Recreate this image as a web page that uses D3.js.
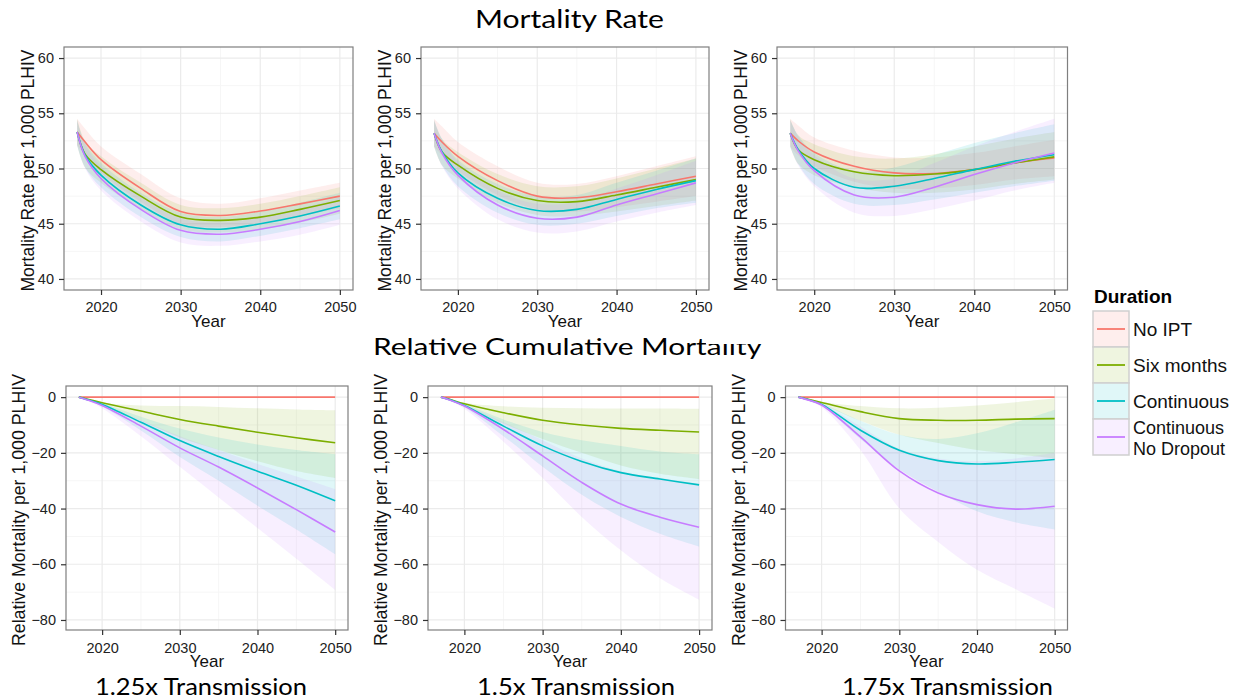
<!DOCTYPE html>
<html>
<head>
<meta charset="utf-8">
<script src="https://cdn.jsdelivr.net/npm/d3@7"></script>
<style>
  body { margin: 0; background: #fff; }
  svg { display: block; }
  .tick text { font-family: "Liberation Sans", Arial, sans-serif; fill: #222; }
</style>
</head>
<body>
<svg width="1250" height="700"></svg>
<script>
// series order: No IPT, Six months, Continuous, Continuous No Dropout
var years = [2017, 2018, 2020, 2025, 2030, 2035, 2040, 2045, 2050];
var durations = ["No IPT", "Six months", "Continuous", "Continuous\nNo Dropout"];
var colors = ["#F8766D", "#7CAE00", "#00BFC4", "#C77CFF"];
var xTicks = [2020, 2030, 2040, 2050];
var rateTicks = [40, 45, 50, 55, 60];
var relTicks = [0, -20, -40, -60, -80];
var transmission = ["1.25x Transmission", "1.5x Transmission", "1.75x Transmission"];

// Mortality rate, 1.25x
var tlMid = [
  [53.3, 52.4, 50.8, 48.2, 46.1, 45.75, 46.15, 46.8, 47.5],
  [53.3, 51.3, 49.9, 47.5, 45.6, 45.3, 45.6, 46.3, 47.1],
  [53.3, 51.2, 49.4, 46.7, 44.9, 44.5, 45.0, 45.7, 46.6],
  [53.3, 51.1, 49.1, 46.3, 44.4, 44.05, 44.5, 45.2, 46.2]
];
var tlHi = [
  [54.5, 53.6, 52.0, 49.5, 47.3, 46.8, 47.3, 48.0, 48.7],
  [54.5, 52.5, 51.1, 48.7, 46.7, 46.4, 46.8, 47.5, 48.3],
  [54.4, 52.3, 50.5, 47.8, 46.0, 45.6, 46.1, 46.9, 47.8],
  [54.4, 52.2, 50.2, 47.4, 45.5, 45.1, 45.6, 46.4, 47.4]
];
var tlLo = [
  [52.1, 51.2, 49.6, 47.0, 45.0, 44.7, 45.1, 45.7, 46.4],
  [52.1, 50.1, 48.7, 46.3, 44.5, 44.2, 44.5, 45.1, 45.9],
  [52.1, 50.1, 48.3, 45.6, 43.8, 43.4, 43.9, 44.6, 45.4],
  [52.1, 50.0, 48.0, 45.2, 43.3, 43.0, 43.4, 44.0, 44.9]
];

// Mortality rate, 1.5x
var tmMid = [
  [53.2, 52.4, 51.1, 48.9, 47.5, 47.35, 47.9, 48.6, 49.3],
  [53.2, 51.5, 50.3, 48.2, 47.1, 47.0, 47.6, 48.3, 49.0],
  [53.2, 51.5, 49.6, 47.3, 46.2, 46.3, 47.2, 48.1, 48.9],
  [53.2, 51.4, 49.4, 46.7, 45.5, 45.6, 46.7, 47.7, 48.7]
];
var tmHi = [
  [54.5, 53.8, 52.4, 50.2, 48.7, 48.6, 49.3, 50.2, 51.1],
  [54.4, 52.7, 51.5, 49.5, 48.4, 48.4, 49.1, 50.0, 50.9],
  [54.4, 52.7, 50.8, 48.6, 47.5, 47.6, 48.7, 49.8, 50.9],
  [54.4, 52.6, 50.6, 48.0, 46.8, 47.0, 48.2, 49.4, 50.7]
];
var tmLo = [
  [52.0, 51.2, 49.8, 47.6, 46.3, 46.1, 46.5, 47.0, 47.5],
  [52.0, 50.3, 49.1, 46.9, 45.8, 45.7, 46.1, 46.6, 47.1],
  [52.0, 50.3, 48.4, 46.0, 44.9, 45.0, 45.7, 46.4, 46.9],
  [52.0, 50.2, 48.2, 45.4, 44.2, 44.3, 45.2, 46.0, 46.7]
];

// Mortality rate, 1.75x
var trMid = [
  [53.2, 52.5, 51.5, 50.2, 49.6, 49.55, 49.9, 50.5, 50.95],
  [53.2, 51.7, 50.8, 49.7, 49.35, 49.5, 49.9, 50.5, 51.05],
  [53.2, 51.7, 50.0, 48.3, 48.4, 49.1, 49.9, 50.65, 51.25],
  [53.2, 51.6, 49.8, 47.6, 47.4, 48.3, 49.45, 50.5, 51.4]
];
var trHi = [
  [54.5, 53.9, 52.8, 51.6, 51.0, 51.0, 51.4, 52.0, 52.6],
  [54.5, 53.0, 52.2, 51.1, 50.9, 51.3, 52.0, 52.7, 53.3],
  [54.4, 53.0, 51.4, 49.8, 50.1, 51.2, 52.3, 53.2, 54.0],
  [54.4, 52.9, 51.2, 49.1, 49.1, 50.5, 52.0, 53.3, 54.5]
];
var trLo = [
  [52.0, 51.2, 50.2, 48.8, 48.2, 48.2, 48.5, 49.0, 49.3],
  [52.0, 50.4, 49.4, 48.3, 47.8, 47.8, 48.1, 48.6, 49.0],
  [52.0, 50.4, 48.6, 46.8, 46.7, 47.2, 47.8, 48.4, 48.9],
  [52.0, 50.3, 48.4, 46.0, 45.7, 46.3, 47.1, 48.0, 48.7]
];

// Relative cumulative mortality, 1.25x
var blMid = [
  [0, 0, 0, 0, 0, 0, 0, 0, 0],
  [0, -0.7, -2.0, -5.0, -8.0, -10.4, -12.6, -14.6, -16.4],
  [0, -0.8, -2.6, -9.0, -15.6, -21.3, -26.6, -31.6, -37.2],
  [0, -0.9, -3.0, -10.4, -18.2, -25.1, -32.6, -40.4, -48.4]
];
var blHi = [
  [0, 0, 0, 0, 0, 0, 0, 0, 0],
  [0, -0.6, -2.0, -3.0, -3.2, -3.5, -4.0, -4.4, -4.7],
  [0, -0.7, -2.2, -7.0, -11.3, -14.5, -17, -19, -20.5],
  [0, -0.8, -2.6, -8.3, -14, -19, -24, -28.5, -33]
];
var blLo = [
  [0, 0, 0, 0, 0, 0, 0, 0, 0],
  [0, -0.9, -2.8, -8.5, -14.5, -19, -23, -26.5, -29],
  [0, -1.0, -3.4, -12, -21.5, -30, -39, -47.5, -56.4],
  [0, -1.1, -4.0, -14, -25, -36, -47, -58, -69.2]
];

// Relative cumulative mortality, 1.5x
var bmMid = [
  [0, 0, 0, 0, 0, 0, 0, 0, 0],
  [0, -0.7, -2.4, -5.6, -8.3, -10.0, -11.2, -11.9, -12.5],
  [0, -0.8, -3.0, -10.4, -17.5, -23.1, -27.1, -29.4, -31.5],
  [0, -0.9, -3.2, -11.6, -21.1, -30.6, -38.4, -43.1, -46.7]
];
var bmHi = [
  [0, 0, 0, 0, 0, 0, 0, 0, 0],
  [0, -0.6, -2.0, -3.3, -3.8, -4.0, -4.1, -4.1, -4.2],
  [0, -0.7, -2.5, -8, -12.5, -15.5, -17.5, -19.5, -20.5],
  [0, -0.8, -2.7, -9, -15.5, -22, -26.5, -29, -31]
];
var bmLo = [
  [0, 0, 0, 0, 0, 0, 0, 0, 0],
  [0, -0.9, -3.0, -9.5, -15, -20, -24.5, -27.5, -29.4],
  [0, -1.0, -3.6, -14, -25, -35, -43, -49, -53.6],
  [0, -1.1, -4.2, -16, -29, -43, -55, -65, -72.7]
];

// Relative cumulative mortality, 1.75x
var brMid = [
  [0, 0, 0, 0, 0, 0, 0, 0, 0],
  [0, -0.6, -1.9, -5.2, -7.7, -8.3, -8.3, -7.9, -7.7],
  [0, -0.7, -2.6, -11.9, -19.1, -22.8, -24.0, -23.4, -22.4],
  [0, -0.8, -2.8, -14.3, -26.5, -34.4, -38.6, -40.2, -39.2]
];
var brHi = [
  [0, 0, 0, 0, 0, 0, 0, 0, 0],
  [0, -0.5, -1.7, -3.2, -4.0, -3.8, -3.0, -1.8, -0.4],
  [0, -0.6, -2.2, -8.5, -13.5, -15, -13, -9, -4.5],
  [0, -0.7, -2.4, -10.5, -18.5, -22, -23, -22, -20]
];
var brLo = [
  [0, 0, 0, 0, 0, 0, 0, 0, 0],
  [0, -0.8, -2.6, -8.5, -13.5, -16.5, -19, -20.5, -22],
  [0, -0.9, -3.2, -15, -26, -34, -41, -45, -47.5],
  [0, -1.0, -3.6, -19, -40, -52, -62, -69, -75.9]
];

var svg = d3.select("svg");
svg.append("rect").attr("width", 1250).attr("height", 700).attr("fill", "#fff");

var titleFont = "Lato, 'Open Sans', sans-serif";
var axisFont = "'Liberation Sans', Arial, sans-serif";

// row titles
svg.append("text")
  .attr("x", 569.5).attr("y", 28)
  .attr("text-anchor", "middle")
  .attr("font-family", titleFont).attr("font-size", 25)
  .attr("textLength", 189).attr("lengthAdjust", "spacingAndGlyphs")
  .text("Mortality Rate");

svg.append("text")
  .attr("x", 373).attr("y", 355)
  .attr("font-family", titleFont).attr("font-size", 23)
  .attr("textLength", 389).attr("lengthAdjust", "spacingAndGlyphs")
  .text("Relative Cumulative Mortality");

// background of the top-right figure covers the top of that title
svg.append("rect")
  .attr("x", 706).attr("y", 300).attr("width", 379).attr("height", 44)
  .attr("fill", "#fff");

var bottomCenters = [201, 576, 947.5];
var bottomWidths = [212, 198, 211];
transmission.forEach(function(t, i) {
  svg.append("text")
    .attr("x", bottomCenters[i]).attr("y", 695)
    .attr("text-anchor", "middle")
    .attr("font-family", titleFont).attr("font-size", 23)
    .attr("textLength", bottomWidths[i]).attr("lengthAdjust", "spacingAndGlyphs")
    .text(t);
});

var panels = [
  { x0: 64, x1: 353, y0: 47, y1: 290, top: true, mid: tlMid, lo: tlLo, hi: tlHi },
  { x0: 421, x1: 709, y0: 47, y1: 290, top: true, mid: tmMid, lo: tmLo, hi: tmHi },
  { x0: 777, x1: 1067.5, y0: 47, y1: 290, top: true, mid: trMid, lo: trLo, hi: trHi },
  { x0: 66, x1: 348, y0: 386, y1: 630, top: false, mid: blMid, lo: blLo, hi: blHi },
  { x0: 428, x1: 712, y0: 386, y1: 630, top: false, mid: bmMid, lo: bmLo, hi: bmHi },
  { x0: 785.5, x1: 1067.5, y0: 386, y1: 630, top: false, mid: brMid, lo: brLo, hi: brHi }
];

var curve = d3.curveCatmullRom.alpha(0.5);

panels.forEach(function(p) {
  var x = d3.scaleLinear().domain([2015.35, 2051.65]).range([p.x0, p.x1]);
  var y = d3.scaleLinear()
    .domain(p.top ? [39, 61] : [-83.6, 4])
    .range([p.y1, p.y0]);
  var yTicks = p.top ? rateTicks : relTicks;
  var yMinor = p.top ? [42.5, 47.5, 52.5, 57.5] : [-70, -50, -30, -10];
  var xMinor = [2025, 2035, 2045];

  var g = svg.append("g");
  g.append("rect")
    .attr("x", p.x0).attr("y", p.y0)
    .attr("width", p.x1 - p.x0).attr("height", p.y1 - p.y0)
    .attr("fill", "#fff");

  // grid
  g.selectAll(".xminor").data(xMinor).enter().append("line")
    .attr("x1", x).attr("x2", x).attr("y1", p.y0).attr("y2", p.y1)
    .attr("stroke", "#f6f6f6").attr("stroke-width", 1);
  g.selectAll(".yminor").data(yMinor).enter().append("line")
    .attr("x1", p.x0).attr("x2", p.x1).attr("y1", y).attr("y2", y)
    .attr("stroke", "#f6f6f6").attr("stroke-width", 1);
  g.selectAll(".xmajor").data(xTicks).enter().append("line")
    .attr("x1", x).attr("x2", x).attr("y1", p.y0).attr("y2", p.y1)
    .attr("stroke", "#ebebeb").attr("stroke-width", 1.2);
  g.selectAll(".ymajor").data(yTicks).enter().append("line")
    .attr("x1", p.x0).attr("x2", p.x1).attr("y1", y).attr("y2", y)
    .attr("stroke", "#ebebeb").attr("stroke-width", 1.2);

  var area = d3.area()
    .x(function(d) { return x(d.year); })
    .y0(function(d) { return y(d.lo); })
    .y1(function(d) { return y(d.hi); })
    .curve(curve);
  var line = d3.line()
    .x(function(d) { return x(d.year); })
    .y(function(d) { return y(d.mid); })
    .curve(curve);

  var series = p.mid.map(function(m, s) {
    return years.map(function(yr, i) {
      return { year: yr, mid: m[i], lo: p.lo[s][i], hi: p.hi[s][i] };
    });
  });

  g.selectAll(".band").data(series).enter().append("path")
    .attr("d", area)
    .attr("fill", function(d, i) { return colors[i]; })
    .attr("fill-opacity", 0.12);
  g.selectAll(".line").data(series).enter().append("path")
    .attr("d", line)
    .attr("fill", "none")
    .attr("stroke", function(d, i) { return colors[i]; })
    .attr("stroke-width", 1.6);

  g.append("rect")
    .attr("x", p.x0).attr("y", p.y0)
    .attr("width", p.x1 - p.x0).attr("height", p.y1 - p.y0)
    .attr("fill", "none").attr("stroke", "#7f7f7f").attr("stroke-width", 1.2);

  // axes
  var xAxis = g.append("g")
    .attr("transform", "translate(0," + p.y1 + ")")
    .call(d3.axisBottom(x).tickValues(xTicks).tickFormat(d3.format("d"))
      .tickSize(5).tickPadding(p.top ? 7 : 8));
  var yAxis = g.append("g")
    .attr("transform", "translate(" + p.x0 + ",0)")
    .call(d3.axisLeft(y).tickValues(yTicks).tickSize(5).tickPadding(5));
  [xAxis, yAxis].forEach(function(a) {
    a.select(".domain").remove();
    a.selectAll(".tick line").attr("stroke", "#333").attr("stroke-width", 1.2);
    a.selectAll(".tick text").attr("font-size", 14.5);
  });

  g.append("text")
    .attr("x", (p.x0 + p.x1) / 2).attr("y", p.top ? 327 : 667)
    .attr("text-anchor", "middle")
    .attr("font-family", axisFont).attr("font-size", 17)
    .attr("fill", "#111")
    .text("Year");

  var yTitleX = p.top ? p.x0 - 30 : p.x0 - 41;
  var yTitleY = (p.y0 + p.y1) / 2 + 2;
  g.append("text")
    .attr("transform", "translate(" + yTitleX + "," + yTitleY + ") rotate(-90)")
    .attr("text-anchor", "middle")
    .attr("font-family", axisFont).attr("font-size", 17.5)
    .attr("fill", "#111")
    .attr("textLength", p.top ? 242 : 272).attr("lengthAdjust", "spacingAndGlyphs")
    .text(p.top ? "Mortality Rate per 1,000 PLHIV" : "Relative Mortality per 1,000 PLHIV");
});

// legend
var legend = svg.append("g");
legend.append("text")
  .attr("x", 1094).attr("y", 303)
  .attr("font-family", axisFont).attr("font-size", 19).attr("font-weight", "bold")
  .text("Duration");

var keyTop = 311, keyH = 36;
durations.forEach(function(name, i) {
  var ky = keyTop + i * keyH;
  legend.append("rect")
    .attr("x", 1093).attr("y", ky).attr("width", 36).attr("height", keyH)
    .attr("fill", "#fff");
  legend.append("rect")
    .attr("x", 1093).attr("y", ky).attr("width", 36).attr("height", keyH)
    .attr("fill", colors[i]).attr("fill-opacity", 0.12)
    .attr("stroke", "#cfcfcf").attr("stroke-width", 1.5);
  legend.append("line")
    .attr("x1", 1097).attr("x2", 1125)
    .attr("y1", ky + keyH / 2).attr("y2", ky + keyH / 2)
    .attr("stroke", colors[i]).attr("stroke-width", 1.8);
  var lines = name.split("\n");
  lines.forEach(function(l, j) {
    legend.append("text")
      .attr("x", 1133)
      .attr("y", ky + keyH / 2 + 7 + (j - (lines.length - 1) / 2) * 21)
      .attr("font-family", axisFont)
      .attr("font-size", lines.length > 1 ? 18 : 19)
      .attr("fill", "#111")
      .text(l);
  });
});
</script>
</body>
</html>
